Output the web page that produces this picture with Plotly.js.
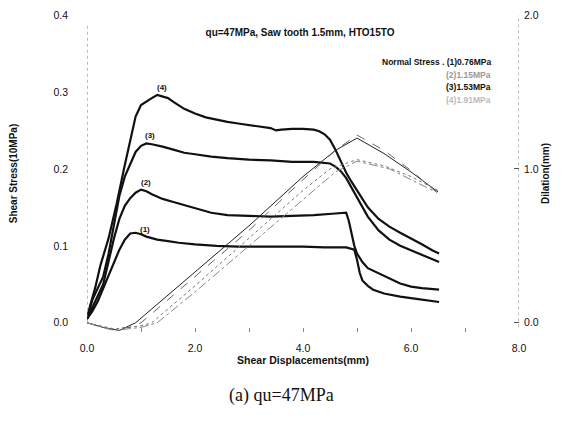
<!DOCTYPE html>
<html>
<head>
<meta charset="utf-8">
<script src="https://cdn.plot.ly/plotly-3.0.1.min.js"></script>
<style>html,body{margin:0;padding:0;background:#fff;}#chart{width:563px;height:421px;}</style>
</head>
<body>
<div id="chart"></div>
<script>
// ---- Shear stress curves (x: shear displacement mm, y: shear stress 10MPa)
const s1x = [0,0.1,0.2,0.3,0.4,0.5,0.6,0.7,0.8,0.9,1.0,1.1,1.3,1.5,1.7,2.0,2.4,2.8,3.2,3.6,4.0,4.4,4.8,4.95,5.0,5.05,5.1,5.2,5.3,5.5,5.8,6.1,6.52];
const s1y = [0.005,0.015,0.028,0.045,0.062,0.078,0.095,0.108,0.116,0.117,0.115,0.112,0.108,0.106,0.104,0.102,0.100,0.099,0.099,0.099,0.099,0.098,0.098,0.095,0.082,0.065,0.055,0.048,0.043,0.038,0.034,0.031,0.027];

const s2x = [0,0.1,0.2,0.3,0.4,0.5,0.6,0.7,0.8,0.9,1.0,1.1,1.2,1.4,1.6,1.8,2.0,2.3,2.6,3.0,3.4,3.8,4.2,4.6,4.8,4.85,4.9,4.95,5.0,5.1,5.2,5.4,5.6,5.8,6.0,6.2,6.52];
const s2y = [0.005,0.02,0.035,0.05,0.08,0.11,0.135,0.152,0.162,0.169,0.173,0.171,0.167,0.161,0.157,0.153,0.148,0.143,0.140,0.139,0.138,0.139,0.140,0.142,0.143,0.132,0.115,0.100,0.090,0.079,0.071,0.064,0.058,0.051,0.047,0.045,0.043];

const s3x = [0,0.1,0.2,0.3,0.4,0.5,0.6,0.7,0.8,0.9,1.0,1.1,1.2,1.4,1.6,1.8,2.0,2.3,2.6,3.0,3.4,3.8,4.2,4.5,4.6,4.7,4.8,4.9,5.0,5.2,5.4,5.6,5.8,6.0,6.2,6.4,6.52];
const s3y = [0.005,0.03,0.045,0.06,0.09,0.13,0.165,0.19,0.207,0.222,0.230,0.233,0.232,0.229,0.225,0.221,0.219,0.216,0.214,0.212,0.211,0.209,0.209,0.207,0.203,0.197,0.188,0.175,0.162,0.138,0.120,0.108,0.100,0.094,0.088,0.082,0.079];

const s4x = [0,0.05,0.15,0.25,0.4,0.55,0.7,0.8,0.9,1.0,1.1,1.2,1.3,1.4,1.5,1.6,1.7,1.8,2.0,2.2,2.4,2.6,2.8,3.0,3.2,3.4,3.5,3.6,3.8,4.0,4.2,4.3,4.4,4.5,4.6,4.7,4.8,4.9,5.0,5.2,5.4,5.6,5.8,6.0,6.2,6.4,6.52];
const s4y = [0.005,0.02,0.045,0.075,0.11,0.155,0.205,0.238,0.268,0.283,0.288,0.292,0.296,0.294,0.292,0.287,0.282,0.278,0.272,0.267,0.264,0.261,0.259,0.257,0.255,0.253,0.250,0.251,0.252,0.252,0.251,0.249,0.245,0.238,0.225,0.210,0.195,0.183,0.172,0.150,0.135,0.125,0.117,0.110,0.102,0.094,0.090];

// ---- Dilation curves (x: shear displacement mm, y: dilation mm)
const d1x = [0,0.3,0.6,0.9,2.0,3.0,4.0,4.6,5.0,5.5,6.0,6.5];
const d1y = [0,-0.03,-0.05,0,0.33,0.63,0.95,1.12,1.20,1.10,0.98,0.85];
const d2x = [0,0.4,0.8,1.0,2.0,3.0,4.0,4.6,5.0,5.5,6.0,6.5];
const d2y = [0,-0.04,-0.03,0,0.30,0.60,0.93,1.12,1.22,1.12,0.99,0.84];
const d3x = [0,0.5,1.0,1.2,2.0,3.0,4.0,4.5,5.0,5.5,6.0,6.5];
const d3y = [0,-0.04,-0.02,0,0.24,0.55,0.86,1.00,1.06,1.02,0.95,0.86];
const d4x = [0,0.5,1.0,1.3,2.0,3.0,4.0,4.6,5.0,5.6,6.0,6.4];
const d4y = [0,-0.05,-0.03,0,0.20,0.50,0.80,0.98,1.05,1.00,0.93,0.86];

// ---- Labels
const curveLabels = ['(1)','(2)','(3)','(4)'];
const curveLabelX = [1.07,1.09,1.16,1.39];
const curveLabelY = [0.121,0.182,0.244,0.306];
const legendLines = ['Normal Stress . (1)0.76MPa','(2)1.15MPa','(3)1.53MPa','(4)1.91MPa'];
const xTickVals = [0,1,2,3,4,5,6,7,8];
const xTickText = ['0.0','','2.0','','4.0','','6.0','','8.0'];
const yTickVals = [0,0.1,0.2,0.3,0.4];
const yTickText = ['0.0','0.1','0.2','0.3','0.4'];
const y2TickVals = [0,1,2];
const y2TickText = ['0.0','1.0','2.0'];

const shearX = [s1x,s2x,s3x,s4x];
const shearY = [s1y,s2y,s3y,s4y];
const dilX = [d1x,d2x,d3x,d4x];
const dilY = [d1y,d2y,d3y,d4y];
const dilDash = ['solid','dash','dot','dashdot'];
const dilColor = ['#222','#666','#777','#888'];

const traces = [];
for (let i = 0; i < 4; i++) {
  traces.push({x: dilX[i], y: dilY[i], yaxis: 'y2', mode: 'lines', type: 'scatter',
    line: {color: dilColor[i], width: 1, dash: dilDash[i]}, hoverinfo: 'skip'});
}
for (let i = 0; i < 4; i++) {
  traces.push({x: shearX[i], y: shearY[i], mode: 'lines', type: 'scatter',
    line: {color: '#111', width: 2.2}, hoverinfo: 'skip'});
}

const F = '"Liberation Sans", Arial, sans-serif';
const L = 87, R = 44, T = 15, B = 89;
const pw = 563 - L - R, ph = 421 - T - B;

const annotations = [];
for (let i = 0; i < 4; i++) {
  annotations.push({x: curveLabelX[i], y: curveLabelY[i], xref: 'x', yref: 'y', text: curveLabels[i],
    showarrow: false, font: {family: F, size: 8, color: '#111', weight: 'bold'}});
}
const legColors = ['#111','#999','#111','#bbb'];
const legY = [62,75,87,100];
for (let i = 0; i < 4; i++) {
  annotations.push({x: (493 - L) / pw, y: 1 - (legY[i] - T) / ph, xref: 'paper', yref: 'paper',
    text: legendLines[i], showarrow: false, xanchor: 'right', yanchor: 'middle',
    font: {family: F, size: 8.5, color: legColors[i], weight: 'bold'}});
}
annotations.push({x: (281 - L) / pw, y: 1 - (395 - T) / ph, xref: 'paper', yref: 'paper',
  xanchor: 'center', yanchor: 'middle', text: '(a) qu=47MPa', showarrow: false,
  font: {family: '"Liberation Serif", "Times New Roman", serif', size: 18, color: '#111'}});

const shapes = [
  {type: 'line', xref: 'x', yref: 'y', x0: 0, x1: 0, y0: 0, y1: 0.387, line: {color: '#777', width: 1, dash: 'dot'}},
  {type: 'line', xref: 'x', yref: 'y2', x0: 8, x1: 8, y0: -0.03, y1: 2.0, line: {color: '#777', width: 1, dash: 'dot'}}
];

const layout = {
  width: 563, height: 421,
  margin: {l: L, r: R, t: T, b: B},
  paper_bgcolor: '#fff', plot_bgcolor: '#fff',
  showlegend: false,
  font: {family: F, color: '#111'},
  title: {text: 'qu=47MPa, Saw tooth 1.5mm, HTO15TO', xref: 'container', yref: 'container',
    x: 300/563, y: 1 - 32/421, xanchor: 'center', yanchor: 'middle',
    font: {family: F, size: 10, color: '#111', weight: 'bold'}},
  xaxis: {range: [0, 8], tickvals: xTickVals, ticktext: xTickText, ticks: 'inside', ticklen: 4,
    tickcolor: '#888', showline: false, showgrid: false, zeroline: false,
    tickfont: {family: F, size: 10.5, color: '#111'}, ticklabelstandoff: 8,
    title: {text: 'Shear Displacements(mm)', standoff: 4, font: {family: F, size: 10.5, color: '#111', weight: 'bold'}}},
  yaxis: {range: [-0.012, 0.4], tickvals: yTickVals, ticktext: yTickText, ticks: '', showline: false,
    showgrid: false, zeroline: false, ticklabelstandoff: 18,
    tickfont: {family: F, size: 10.5, color: '#111'},
    title: {text: 'Shear Stress(10MPa)', standoff: 33, font: {family: F, size: 10, color: '#111', weight: 'bold'}}},
  yaxis2: {range: [-0.06, 2.0], overlaying: 'y', side: 'right', tickvals: y2TickVals, ticktext: y2TickText,
    ticks: 'inside', ticklen: 5, tickcolor: '#555', showline: false, showgrid: false, zeroline: false,
    tickfont: {family: F, size: 10.5, color: '#111'}, ticklabelstandoff: 4,
    title: {text: 'Dilation(mm)', standoff: 4, font: {family: F, size: 10, color: '#111', weight: 'bold'}}},
  annotations: annotations,
  shapes: shapes
};

Plotly.newPlot('chart', traces, layout, {staticPlot: true, displayModeBar: false});
</script>
</body>
</html>
